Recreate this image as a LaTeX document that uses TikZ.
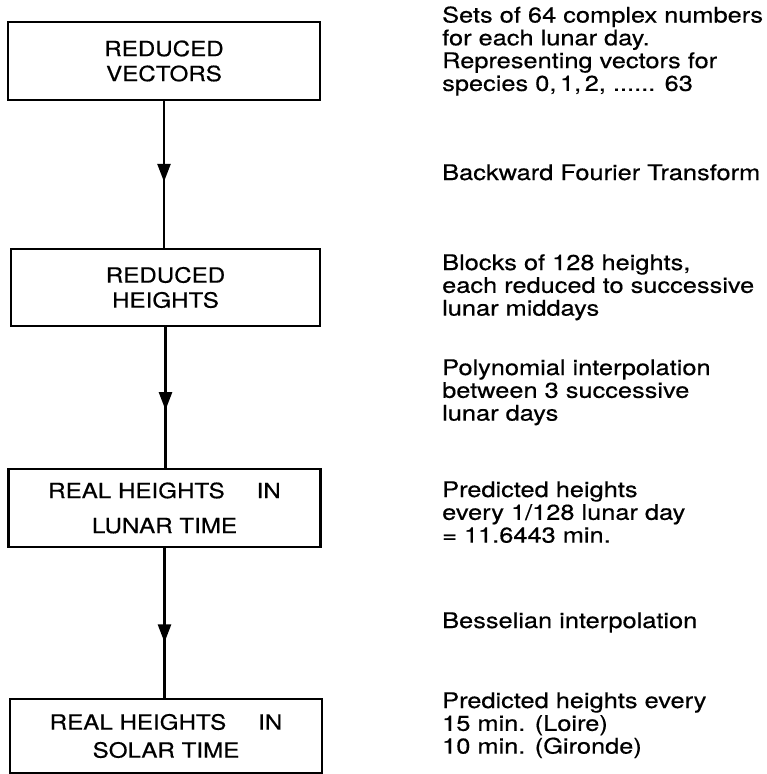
\documentclass[tikz,border=0pt]{standalone}
\usepackage{fontspec}
\setmainfont[FakeStretch=1.12]{TeX Gyre Heros}
\newfontfamily\boxfont[FakeStretch=1.15,FakeBold=0.5]{TeX Gyre Heros}
\newfontfamily\notefont[FakeStretch=1.18,FakeBold=0.5]{TeX Gyre Heros}
\usetikzlibrary{arrows.meta,decorations.markings}
\begin{document}
\begin{tikzpicture}[x=1pt,y=-1pt,
  box/.style={draw, line width=2.9pt, minimum width=312pt, minimum height=78pt,
    inner sep=0pt, align=center, font=\boxfont\fontsize{21}{25}\selectfont},
  note/.style={anchor=base west, align=left, inner sep=0pt,
    font=\notefont\fontsize{21.5}{22.8}\selectfont},
  flow/.style={line width=2.5pt, postaction=decorate,
    decoration={markings, mark=at position #1 with {\arrow{Triangle[width=13pt,length=18pt]}}}}]
\useasboundingbox (0,0) rectangle (766,774);

\node[box] (rv) at (164,61) {REDUCED\\VECTORS\hspace{8pt}};
\node[box, minimum width=309pt, minimum height=77pt] (rh) at (165.5,287.5) {REDUCED\\HEIGHTS};
\node[box, font=\boxfont\fontsize{21}{35}\selectfont] (rl) at (164.5,508) {REAL HEIGHTS\hspace{1.2em} IN\\LUNAR TIME\hspace{18pt}};
\node[box, minimum height=74pt, font=\boxfont\fontsize{21}{28}\selectfont] (rs) at (166,736) {REAL HEIGHTS\hspace{1.2em} IN\\SOLAR TIME\hspace{16pt}};

\draw[flow=0.55] (rv.south) -- (rv.south |- rh.north);
\draw[flow=0.59] (rh.south) -- (rh.south |- rl.north);
\draw[flow=0.63] (rl.south) -- (rl.south |- rs.north);

\node[note] (t1) at (442,90.9) {Sets of 64 complex numbers\\for each lunar day.\\Representing vectors for\\species 0,\,1,\,2, ...... 63};
\node[note] (t2) at (442,180) {Backward Fourier Transform};
\node[note] (t3) at (442,315.6) {Blocks of 128 heights,\\each reduced to successive\\lunar middays};
\node[note] (t4) at (442,420.6) {Polynomial interpolation\\between 3 successive\\lunar days};
\node[note] (t5) at (442,542.6) {Predicted heights\\every 1/128 lunar day\\= 11.6443 min.};
\node[note] (t6) at (442,628) {Besselian interpolation};
\node[note] (t7) at (442,753.6) {Predicted heights every\\15 min. (Loire)\\10 min. (Gironde)};
\end{tikzpicture}
\end{document}
